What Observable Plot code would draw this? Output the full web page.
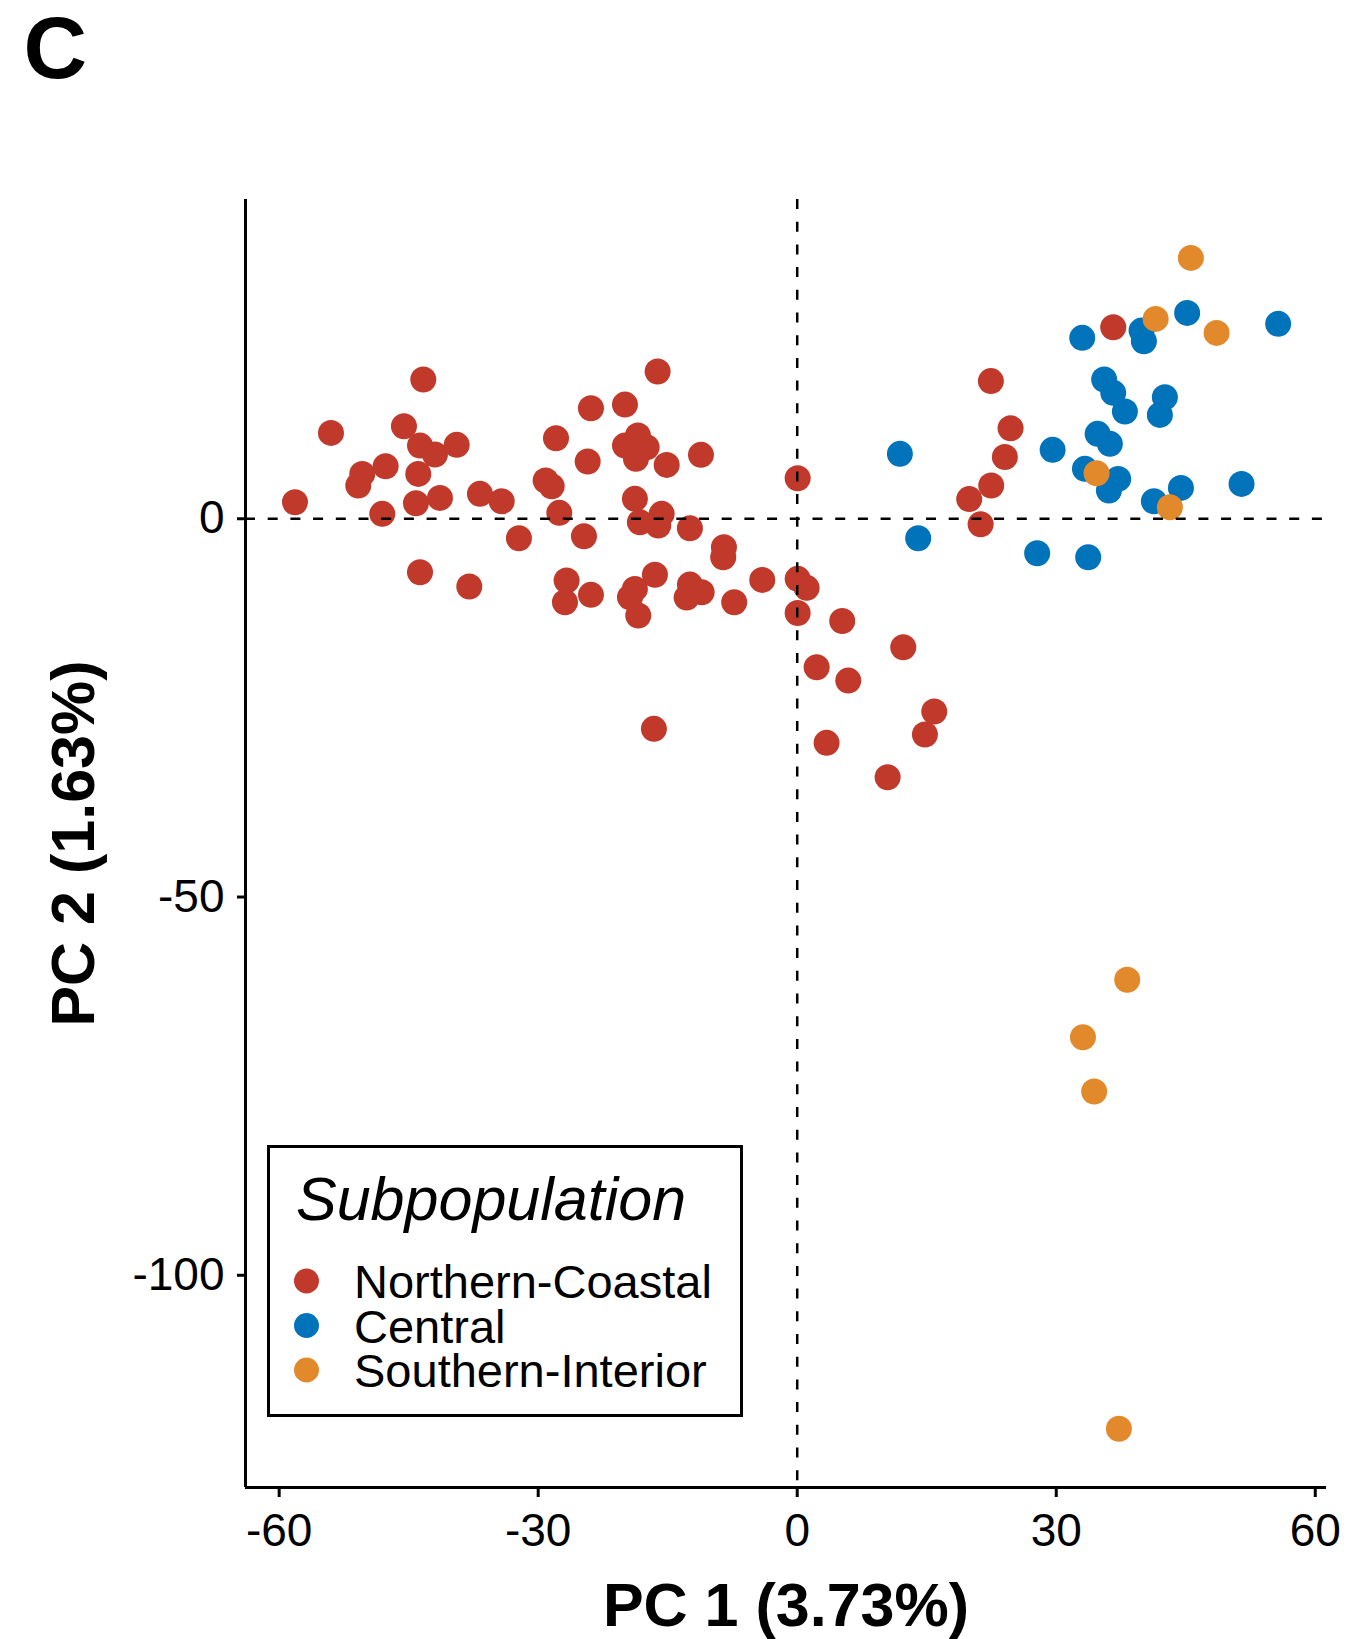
<!DOCTYPE html>
<html>
<head>
<meta charset="utf-8">
<script src="https://cdn.jsdelivr.net/npm/d3@7"></script>
<script src="https://cdn.jsdelivr.net/npm/@observablehq/plot@0.6"></script>
<style>
  html, body { margin: 0; padding: 0; background: white; }
  #wrap { position: relative; width: 1351px; height: 1639px; overflow: hidden; }
  #wrap svg { display: block; }
  #legend { position: absolute; left: 0; top: 0; pointer-events: none; }
</style>
</head>
<body>
<div id="wrap"></div>
<script>
// ---- Data ----
const groups = ["Northern-Coastal", "Central", "Southern-Interior"];
const colors = ["#C0392B", "#0073BB", "#E28A2B"];

const northernX = [-43.31,-54.00,-45.55,-43.69,-41.96,-39.44,-47.67,-50.38,-50.84,-43.89,
  -58.17,-48.06,-44.16,-41.38,-36.75,-34.23,-32.23,-43.69,-37.98,-27.94,
  -23.89,-19.95,-24.27,-29.14,-28.44,-27.56,-24.70,-26.71,-26.90,-23.89,
  -16.17,-19.95,-18.45,-17.44,-18.68,-15.12,-11.15,0.05,-18.80,-15.70,
  -18.22,-16.10,-12.43,-8.49,-8.57,-16.48,-18.80,-19.37,-18.41,-12.43,
  -11.07,-12.81,-7.30,-4.05,0.05,1.09,0.05,5.21,-16.60,12.28,
  2.25,5.91,15.87,14.79,3.40,10.47,22.43,24.71,24.05,22.47,
  19.92,21.24,36.60];
const northernY = [18.40,11.35,12.23,9.67,8.49,9.77,6.94,5.93,4.39,5.93,
  2.18,0.65,2.05,2.76,3.29,2.31,-2.58,-7.07,-8.96,10.64,
  14.60,15.09,7.56,5.05,4.30,0.78,-2.31,-8.17,-11.04,-10.06,
  19.46,9.67,11.00,9.45,7.92,7.12,8.45,5.35,2.63,0.65,
  -0.46,-0.90,-1.26,-3.77,-5.09,-7.41,-9.27,-10.38,-12.79,-8.70,
  -9.71,-10.42,-11.04,-8.08,-7.94,-9.13,-12.46,-13.52,-27.77,-16.98,
  -19.63,-21.39,-25.48,-28.52,-29.62,-34.17,18.20,11.96,8.16,4.39,
  2.60,-0.73,25.31];

const centralX = [11.89,14.01,27.79,33.70,29.58,33.01,39.88,40.15,45.16,55.70,
  35.55,36.60,37.95,42.58,42.00,34.79,36.21,33.32,37.17,36.10,
  41.31,44.44,51.46];
const centralY = [8.58,-2.58,-4.56,-5.09,9.11,23.91,24.87,23.46,27.21,25.76,
  18.40,16.64,14.17,16.06,13.73,11.22,9.90,6.60,5.27,3.73,
  2.31,4.08,4.61];

const southernX = [45.59,41.51,48.57,34.67,43.16,38.22,33.09,34.39,37.26];
const southernY = [34.48,26.42,24.57,6.01,1.52,-60.94,-68.53,-75.71,-120.29];

const xTicks = [-60, -30, 0, 30, 60];
const yTicks = [-100, -50, 0];
const xDomain = [-63.9, 61.3];
const yDomain = [-128.05, 42.2];
const xTitle = "PC 1 (3.73%)";
const yTitle = "PC 2 (1.63%)";
const panelLabel = "C";
const legendTitle = "Subpopulation";

// ---- Build table ----
const points = [];
northernX.forEach((x, i) => points.push({x, y: northernY[i], group: groups[0]}));
centralX.forEach((x, i) => points.push({x, y: centralY[i], group: groups[1]}));
southernX.forEach((x, i) => points.push({x, y: southernY[i], group: groups[2]}));

const font = "'Liberation Sans', Arial, Helvetica, sans-serif";

const chart = Plot.plot({
  width: 1351,
  height: 1639,
  marginTop: 199,
  marginBottom: 152,
  marginLeft: 245,
  marginRight: 25,
  style: {fontFamily: font, fontSize: "46px", color: "black", background: "white", overflow: "visible"},
  x: {domain: xDomain, label: null},
  y: {domain: yDomain, label: null},
  color: {domain: groups, range: colors},
  marks: [
    Plot.dot(points, {x: "x", y: "y", fill: "group", r: 13, stroke: "none"}),
    Plot.ruleY([0], {stroke: "black", strokeWidth: 2.5, strokeDasharray: "10,12.7"}),
    Plot.ruleX([0], {stroke: "black", strokeWidth: 2.5, strokeDasharray: "10,12.7"}),
    Plot.ruleX([xDomain[0]], {stroke: "black", strokeWidth: 3}),
    Plot.ruleY([yDomain[0]], {stroke: "black", strokeWidth: 3}),
    Plot.axisX({ticks: xTicks, tickSize: 10, tickPadding: 16, strokeWidth: 3, label: null,
      tickFormat: d => String(d), fill: "black"}),
    Plot.axisY({ticks: yTicks, tickSize: 8, tickPadding: 13, strokeWidth: 3, label: null,
      tickFormat: d => String(d), fill: "black"}),
    Plot.text([xTitle], {text: d => d, frameAnchor: "bottom", dy: 95, lineAnchor: "top",
      textAnchor: "middle", fontSize: 61, fontWeight: "bold", fill: "black"}),
    Plot.text([yTitle], {text: d => d, frameAnchor: "left", dx: -171, rotate: -90,
      textAnchor: "middle", lineAnchor: "middle", fontSize: 61, fontWeight: "bold", fill: "black"}),
    Plot.text([panelLabel], {text: d => d, frameAnchor: "top-left", dx: -222, dy: -184,
      lineAnchor: "top", textAnchor: "start", fontSize: 88, fontWeight: "bold", fill: "black"})
  ]
});

const wrap = document.getElementById("wrap");
wrap.appendChild(chart);

// ---- Legend overlay (inside the plot panel, as in the reference) ----
const leg = d3.select(wrap).append("svg")
  .attr("id", "legend")
  .attr("width", 1351)
  .attr("height", 1639)
  .style("font-family", font);

leg.append("rect")
  .attr("x", 268.5).attr("y", 1146.5)
  .attr("width", 473).attr("height", 269)
  .attr("fill", "white").attr("stroke", "black").attr("stroke-width", 3);

leg.append("text")
  .attr("x", 296).attr("y", 1220)
  .attr("font-size", 61).attr("font-style", "italic")
  .attr("fill", "black")
  .text(legendTitle);

const rowY = [1281, 1325.5, 1370];
groups.forEach((g, i) => {
  leg.append("circle")
    .attr("cx", 306.5).attr("cy", rowY[i]).attr("r", 12.5)
    .attr("fill", colors[i]);
  leg.append("text")
    .attr("x", 354).attr("y", rowY[i] + 17)
    .attr("font-size", 47).attr("fill", "black")
    .text(g);
});
</script>
</body>
</html>
